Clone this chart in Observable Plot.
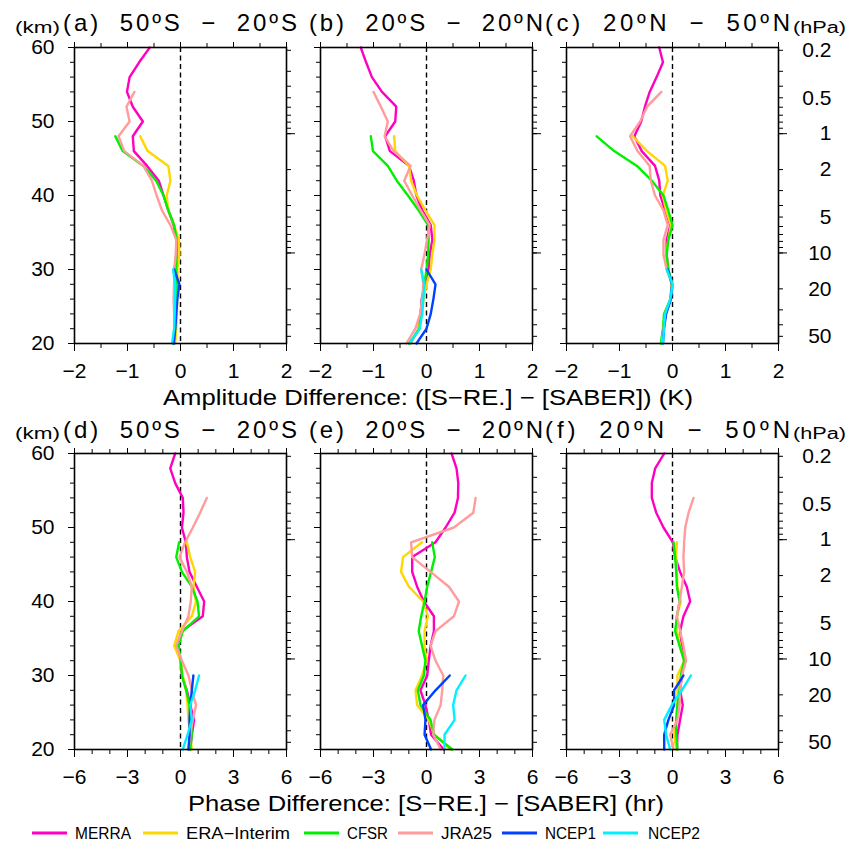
<!DOCTYPE html>
<html><head><meta charset="utf-8">
<script src="https://cdn.jsdelivr.net/npm/d3@7"></script>
<script src="https://cdn.jsdelivr.net/npm/@observablehq/plot@0.6"></script>
<style>
html,body{margin:0;padding:0;background:#fff;}
#wrap{position:relative;width:851px;height:844px;overflow:hidden;background:#fff;font-family:"Liberation Sans",Arial,sans-serif;}
#wrap .panel{position:absolute;}
#overlay{position:absolute;left:0;top:0;pointer-events:none;}
</style></head><body><div id="wrap"></div>
<script>
// ---------- categories / tick labels ----------
const altitudes = [20,22,24,26,28,30,32,34,36,38,40,42,44,46,48,50,52,54,56,58,60];
const seriesNames = ["MERRA","ERA\u2212Interim","CFSR","JRA25","NCEP1","NCEP2"];
const seriesColors = ["#ff00c0","#ffd700","#00f000","#ff9c9c","#0040ff","#00f0ff"];
const amplitudeTicks = [-2,-1,0,1,2];
const amplitudeMinor = [-2,-1.5,-1,-0.5,0,0.5,1,1.5,2];
const phaseTicks = [-6,-3,0,3,6];
const phaseMinor = [-6,-5,-4,-3,-2,-1,0,1,2,3,4,5,6];
const altitudeLabels = [20,30,40,50,60];
const altitudeMinor = [20,22,24,26,28,30,32,34,36,38,40,42,44,46,48,50,52,54,56,58,60];
const pressureLabels = [0.2,0.5,1,2,5,10,20,50];
const pressureMinor = [0.2,0.3,0.4,0.5,0.6,0.7,0.8,0.9,1,2,3,4,5,6,7,8,9,10,20,30,40,50];
const pressureMajor = [1,10];
const panelTitles = ["(a) 50\u00baS \u2212 20\u00baS","(b) 20\u00baS \u2212 20\u00baN","(c) 20\u00baN \u2212 50\u00baN",
                     "(d) 50\u00baS \u2212 20\u00baS","(e) 20\u00baS \u2212 20\u00baN","(f) 20\u00baN \u2212 50\u00baN"];
const amplitudeTitle = "Amplitude Difference: ([S\u2212RE.] \u2212 [SABER]) (K)";
const phaseTitle = "Phase Difference: [S\u2212RE.] \u2212 [SABER] (hr)";

// ---------- values (each series starts at 20 km, every 2 km) ----------
// (a) amplitude, 50S-20S
const ampS_MERRA = [-0.12,-0.11,-0.11,-0.12,-0.12,-0.11,-0.08,-0.07,-0.13,-0.23,-0.32,-0.41,-0.63,-0.88,-0.90,-0.71,-0.90,-1.01,-0.96,-0.78,-0.58];
const ampS_ERA   = [-0.10,-0.08,-0.07,-0.06,-0.05,-0.06,-0.02,-0.03,-0.12,-0.23,-0.26,-0.19,-0.23,-0.62,-0.76];
const ampS_CFSR  = [-0.12,-0.10,-0.09,-0.08,-0.07,-0.08,-0.07,-0.07,-0.12,-0.23,-0.32,-0.46,-0.70,-1.09,-1.23];
const ampS_JRA25 = [-0.13,-0.12,-0.12,-0.13,-0.12,-0.12,-0.09,-0.08,-0.19,-0.35,-0.45,-0.54,-0.70,-1.06,-1.17,-0.96,-1.02,-0.87];
const ampS_NCEP1 = [-0.13,-0.10,-0.08,-0.06,-0.02,-0.12];
const ampS_NCEP2 = [-0.16,-0.12,-0.11,-0.10,-0.10,-0.14];
// (b) amplitude, 20S-20N
const ampE_MERRA = [-0.30,-0.15,-0.11,-0.09,-0.03,0.04,0.06,0.11,0.08,-0.08,-0.19,-0.24,-0.33,-0.69,-0.78,-0.59,-0.57,-0.84,-1.03,-1.14,-1.24];
const ampE_ERA   = [-0.30,-0.15,-0.10,-0.05,0.00,0.08,0.11,0.15,0.15,-0.02,-0.18,-0.29,-0.33,-0.59,-0.61];
const ampE_CFSR  = [-0.33,-0.13,-0.11,-0.08,-0.04,0.00,0.03,0.04,0.03,-0.15,-0.35,-0.56,-0.73,-1.01,-1.05];
const ampE_JRA25 = [-0.38,-0.21,-0.12,-0.08,-0.06,-0.10,-0.04,0.01,0.06,-0.11,-0.27,-0.42,-0.30,-0.62,-0.79,-0.73,-0.86,-1.00];
const ampE_NCEP1 = [-0.19,0.00,0.08,0.13,0.17,0.00];
const ampE_NCEP2 = [-0.32,-0.13,-0.08,-0.06,-0.04,-0.10];
// (c) amplitude, 20N-50N
const ampN_MERRA = [-0.20,-0.17,-0.13,-0.04,-0.01,-0.08,-0.11,-0.11,-0.04,-0.14,-0.23,-0.25,-0.33,-0.58,-0.72,-0.59,-0.52,-0.43,-0.30,-0.18,-0.25];
const ampN_ERA   = [-0.20,-0.17,-0.13,-0.04,-0.02,-0.08,-0.12,-0.08,-0.03,-0.12,-0.18,-0.09,-0.14,-0.48,-0.75];
const ampN_CFSR  = [-0.22,-0.18,-0.16,-0.04,0.00,-0.08,-0.11,-0.08,0.00,-0.08,-0.17,-0.39,-0.67,-1.10,-1.43];
const ampN_JRA25 = [-0.20,-0.17,-0.13,-0.04,0.00,-0.11,-0.17,-0.17,-0.09,-0.17,-0.33,-0.41,-0.43,-0.66,-0.80,-0.61,-0.48,-0.21];
const ampN_NCEP1 = [-0.18,-0.16,-0.12,-0.03,-0.01,-0.09];
const ampN_NCEP2 = [-0.18,-0.16,-0.14,-0.04,0.00,-0.11];
// (d) phase, 50S-20S
const phS_MERRA = [0.55,0.64,0.77,0.55,0.36,0.08,0.00,-0.21,0.08,1.26,1.34,0.92,0.51,0.36,0.30,0.08,0.17,0.13,-0.30,-0.58,-0.30];
const phS_ERA   = [0.64,0.55,0.45,0.40,0.32,0.13,0.00,-0.36,-0.11,0.64,0.88,0.73,0.83,0.55,0.36];
const phS_CFSR  = [0.55,0.64,0.58,0.51,0.32,0.08,0.02,-0.11,0.13,1.05,0.96,0.64,0.08,-0.24,-0.08];
const phS_JRA25 = [0.45,0.55,0.70,0.88,0.64,0.45,0.08,-0.24,0.08,0.45,0.58,0.64,0.36,-0.06,0.26,0.70,1.11,1.49];
const phS_NCEP1 = [0.45,0.51,0.51,0.55,0.64,0.73];
const phS_NCEP2 = [0.13,0.40,0.64,0.55,0.83,1.05];
// (e) phase, 20S-20N
const phE_MERRA = [0.98,0.26,0.13,-0.06,-0.34,0.04,0.13,0.23,0.42,0.42,-0.15,-0.53,-0.81,-0.81,0.51,1.08,1.59,1.78,1.80,1.70,1.42];
const phE_ERA   = [1.36,0.45,0.13,-0.53,-0.62,-0.25,0.00,-0.11,-0.11,0.08,-0.19,-1.00,-1.44,-1.33,-0.25];
const phE_CFSR  = [1.46,0.42,0.23,-0.34,-0.49,-0.15,-0.06,-0.25,-0.44,-0.30,-0.11,0.04,0.26,0.47,0.32];
const phE_JRA25 = [0.80,0.38,0.45,0.80,0.89,0.95,0.51,0.23,0.51,1.55,1.84,1.27,0.23,-0.81,-0.87,1.55,2.65,2.78];
const phE_NCEP1 = [0.26,-0.11,-0.06,-0.19,0.51,1.32];
const phE_NCEP2 = [1.02,1.02,1.59,1.51,1.70,2.21];
// (f) phase, 20N-50N
const phN_MERRA = [0.25,0.28,0.43,0.58,0.43,0.53,0.66,0.53,0.43,0.62,1.00,0.81,0.43,0.15,0.02,-0.51,-0.92,-1.17,-1.17,-0.98,-0.47];
const phN_ERA   = [0.21,0.09,0.21,0.28,0.28,0.28,0.66,0.43,0.25,0.25,0.47,0.28,0.25,0.21,0.25];
const phN_CFSR  = [0.28,0.21,0.21,0.28,0.40,0.47,0.66,0.40,0.15,0.25,0.40,0.25,0.21,0.15,0.06];
const phN_JRA25 = [0.06,-0.13,0.28,0.40,0.43,0.53,0.77,0.62,0.43,0.25,0.40,0.53,0.66,0.62,0.66,0.72,0.91,1.19];
const phN_NCEP1 = [-0.47,-0.47,-0.23,0.09,0.09,0.62];
const phN_NCEP2 = [-0.13,-0.36,-0.47,-0.04,0.53,1.04];

// ---------- layout ----------
const frameW = 212, frameH = 296;
const colX = [74, 320, 566];
const rowY = [47, 453];
const mL = 70, mR = 70, mT = 10, mB = 40;
const scaleHeightKm = 7; // pressure axis: z = H ln(1000/p)
const zOfP = p => scaleHeightKm * Math.log(1000 / p);

const panels = [
  {row:0,col:0,kind:"amp",series:[ampS_MERRA,ampS_ERA,ampS_CFSR,ampS_JRA25,ampS_NCEP1,ampS_NCEP2]},
  {row:0,col:1,kind:"amp",series:[ampE_MERRA,ampE_ERA,ampE_CFSR,ampE_JRA25,ampE_NCEP1,ampE_NCEP2]},
  {row:0,col:2,kind:"amp",series:[ampN_MERRA,ampN_ERA,ampN_CFSR,ampN_JRA25,ampN_NCEP1,ampN_NCEP2]},
  {row:1,col:0,kind:"ph",series:[phS_MERRA,phS_ERA,phS_CFSR,phS_JRA25,phS_NCEP1,phS_NCEP2]},
  {row:1,col:1,kind:"ph",series:[phE_MERRA,phE_ERA,phE_CFSR,phE_JRA25,phE_NCEP1,phE_NCEP2]},
  {row:1,col:2,kind:"ph",series:[phN_MERRA,phN_ERA,phN_CFSR,phN_JRA25,phN_NCEP1,phN_NCEP2]}
];

const wrap = document.getElementById("wrap");
const blank = () => "";

panels.forEach(p => {
  const rows = [];
  p.series.forEach((vals, si) => vals.forEach((v, i) => rows.push({s: seriesNames[si], z: altitudes[i], v})));
  const amp = p.kind === "amp";
  const minorX = amp ? amplitudeMinor : phaseMinor;
  const majorX = amp ? amplitudeTicks : phaseTicks;
  const marks = [
    Plot.ruleX([0], {stroke: "black", strokeWidth: 1.4, strokeDasharray: "5,3.5"}),
    Plot.line(rows, {x: "v", y: "z", z: "s", stroke: "s", strokeWidth: 2.4, strokeLinejoin: "round"}),
    Plot.frame({stroke: "black", strokeWidth: 1.6}),
    Plot.axisX(minorX, {anchor: "top", tickSize: 5, tickFormat: blank, label: null}),
    Plot.axisX(majorX, {anchor: "top", tickSize: 6, tickFormat: blank, label: null}),
    Plot.axisX(minorX, {anchor: "bottom", tickSize: 5, tickFormat: blank, label: null}),
    Plot.axisX(majorX, {anchor: "bottom", tickSize: 8, tickPadding: 12, label: null}),
    Plot.axisY(altitudeMinor, {anchor: "left", tickSize: 4, tickFormat: blank, label: null}),
    Plot.axisY(altitudeLabels, {anchor: "left", tickSize: 6, tickPadding: 14,
      tickFormat: p.col === 0 ? (d => String(d)) : blank, label: null}),
    Plot.axisY(pressureMinor.map(zOfP), {anchor: "right", tickSize: 4, tickFormat: blank, label: null}),
    Plot.axisY(pressureMajor.map(zOfP), {anchor: "right", tickSize: 8, tickFormat: blank, label: null})
  ];
  if (p.col === 2) {
    marks.push(Plot.text(pressureLabels, {y: d => zOfP(d), text: d => String(d), frameAnchor: "right",
      textAnchor: "end", dx: 53, fontSize: 21, fill: "black"}));
  }
  const chart = Plot.plot({
    width: frameW + mL + mR, height: frameH + mT + mB,
    marginLeft: mL, marginRight: mR, marginTop: mT, marginBottom: mB,
    style: {background: "transparent", overflow: "visible", fontFamily: "'Liberation Sans', Arial, sans-serif", fontSize: "21px", color: "black"},
    x: {domain: amp ? [-2, 2] : [-6, 6], axis: null},
    y: {domain: [20, 60], axis: null},
    color: {domain: seriesNames, range: seriesColors},
    marks
  });
  chart.classList.add("panel");
  chart.style.left = (colX[p.col] - mL) + "px";
  chart.style.top = (rowY[p.row] - mT) + "px";
  wrap.appendChild(chart);
});

// ---------- titles, axis titles, legend ----------
const ns = "http://www.w3.org/2000/svg";
const ov = document.createElementNS(ns, "svg");
ov.setAttribute("id", "overlay");
ov.setAttribute("width", 851); ov.setAttribute("height", 844);
ov.setAttribute("font-family", "'Liberation Sans', Arial, sans-serif");
wrap.appendChild(ov);
function addText(str, x, y, size, len, adjust, wordSpacing) {
  const t = document.createElementNS(ns, "text");
  t.setAttribute("x", x); t.setAttribute("y", y);
  t.setAttribute("font-size", size); t.setAttribute("fill", "black");
  if (wordSpacing) t.setAttribute("word-spacing", wordSpacing);
  if (len) { t.setAttribute("textLength", len); t.setAttribute("lengthAdjust", adjust || "spacingAndGlyphs"); }
  t.textContent = str;
  ov.appendChild(t);
}
const titleX = [63, 309, 545];
const titleW = [234, 234, 245];
const titleBase = [31, 438];
panelTitles.forEach((s, i) => {
  const r = Math.floor(i / 3), c = i % 3;
  addText(s, titleX[c], titleBase[r], 24, titleW[c], "spacing", 9);
});
[33, 439].forEach(y => { addText("(km)", 15, y, 16, 45); addText("(hPa)", 793, y, 16, 53); });
addText(amplitudeTitle, 163, 405, 22, 530);
addText(phaseTitle, 188, 811, 22, 476);

const legendLineX = [32, 143, 304, 398, 502, 603];
const legendTextX = [75, 186, 347, 441, 545, 648];
const legendTextW = [56, 104, 41, 51, 51, 52];
seriesNames.forEach((s, i) => {
  const l = document.createElementNS(ns, "line");
  l.setAttribute("x1", legendLineX[i]); l.setAttribute("x2", legendLineX[i] + 35);
  l.setAttribute("y1", 833); l.setAttribute("y2", 833);
  l.setAttribute("stroke", seriesColors[i]); l.setAttribute("stroke-width", 3);
  ov.appendChild(l);
  addText(s, legendTextX[i], 839, 16, legendTextW[i]);
});
</script></body></html>
